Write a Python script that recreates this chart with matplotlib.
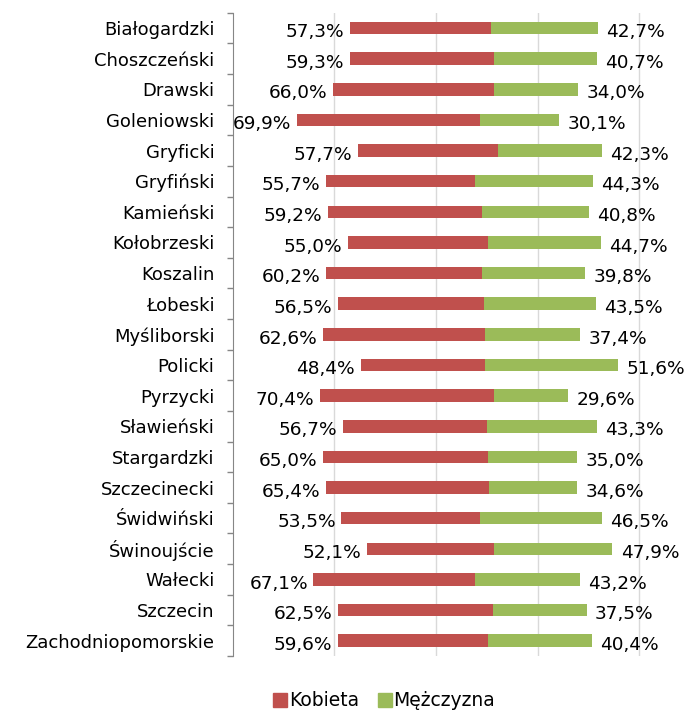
import numpy as np
import matplotlib
matplotlib.use("Agg")
import matplotlib.pyplot as plt
from matplotlib.patches import Patch

plt.rcParams['font.family'] = ['DejaVu Sans']

powiaty = ["Białogardzki", "Choszczeński", "Drawski", "Goleniowski", "Gryficki",
           "Gryfiński", "Kamieński", "Kołobrzeski", "Koszalin", "Łobeski",
           "Myśliborski", "Policki", "Pyrzycki", "Sławieński", "Stargardzki",
           "Szczecinecki", "Świdwiński", "Świnoujście", "Wałecki", "Szczecin",
           "Zachodniopomorskie"]

# labels shown next to the bars (percent)
kobieta_pct = [57.3, 59.3, 66.0, 69.9, 57.7, 55.7, 59.2, 55.0, 60.2, 56.5, 62.6,
               48.4, 70.4, 56.7, 65.0, 65.4, 53.5, 52.1, 67.1, 62.5, 59.6]
mezczyzna_pct = [42.7, 40.7, 34.0, 30.1, 42.3, 44.3, 40.8, 44.7, 39.8, 43.5, 37.4,
                 51.6, 29.6, 43.3, 35.0, 34.6, 46.5, 47.9, 43.2, 37.5, 40.4]

# bar extents (axis units, hidden offset series + two segments)
offset = [23.0, 23.0, 19.8, 12.7, 24.6, 18.4, 18.7, 22.6, 18.4, 20.7, 17.8,
          25.2, 17.2, 21.7, 17.8, 18.4, 21.4, 26.5, 15.9, 20.7, 20.7]
kobieta = [27.9, 28.5, 31.7, 35.9, 27.6, 29.2, 30.3, 27.7, 30.6, 28.7, 31.8,
           24.4, 34.3, 28.3, 32.5, 32.1, 27.2, 25.0, 31.7, 30.6, 29.6]
mezczyzna = [21.0, 20.1, 16.5, 15.6, 20.4, 23.3, 21.0, 22.1, 20.3, 22.1, 18.7,
             26.2, 14.5, 21.6, 17.4, 17.2, 24.0, 23.2, 20.7, 18.3, 20.3]

RED = "#C0504D"
GREEN = "#9BBB59"

W, H = 687, 711
fig = plt.figure(figsize=(W / 100, H / 100), dpi=100)
ax = fig.add_axes([232.6 / W, 55 / H, (W - 232.6) / W, (656 - 12.7) / H])

y = np.arange(len(powiaty))
off = np.array(offset)
k = np.array(kobieta)
m = np.array(mezczyzna)

ax.barh(y, k, left=off, height=0.41, color=RED, zorder=3)
ax.barh(y, m, left=off + k, height=0.41, color=GREEN, zorder=3)

for i in range(len(powiaty)):
    ax.annotate(f"{kobieta_pct[i]:.1f}%".replace(".", ","), (off[i], y[i]),
                xytext=(-4, -3), textcoords="offset points",
                ha="right", va="center", fontsize=13.3)
    ax.annotate(f"{mezczyzna_pct[i]:.1f}%".replace(".", ","), (off[i] + k[i] + m[i], y[i]),
                xytext=(6, -3), textcoords="offset points",
                ha="left", va="center", fontsize=13.3)

ax.set_xlim(0, (W - 232.6) / 5.085)
ax.set_ylim(len(powiaty) - 0.5, -0.5)
ax.set_xticks([20, 40, 60, 80])
ax.set_xticklabels([])
ax.tick_params(axis="x", length=0)
ax.grid(axis="x", color="#d9d9d9", linewidth=1, zorder=0)

ax.set_yticks(y)
ax.set_yticklabels(powiaty, fontsize=13)
ax.set_yticks(np.arange(-0.5, len(powiaty)), minor=True)
ax.tick_params(axis="y", which="major", length=0, pad=13)
ax.tick_params(axis="y", which="minor", length=4.5, color="#868686", width=1)

for s in ["top", "right", "bottom"]:
    ax.spines[s].set_visible(False)
ax.spines["left"].set_color("#868686")

handles = [Patch(color=RED, label="Kobieta"), Patch(color=GREEN, label="Mężczyzna")]
fig.legend(handles=handles, loc="center", bbox_to_anchor=(384 / W, 1 - 701 / H),
           ncol=2, frameon=False, fontsize=13.5, handlelength=0.75, handleheight=0.75,
           handletextpad=0.1, columnspacing=1.0, borderpad=0)

fig.savefig("out.png", dpi=100)
